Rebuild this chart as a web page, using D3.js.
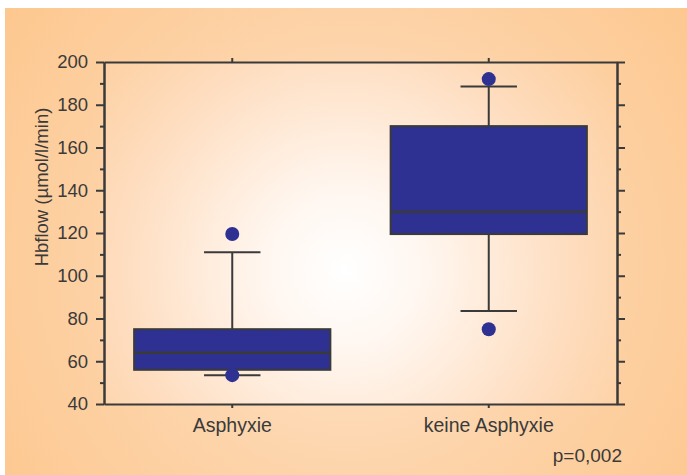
<!DOCTYPE html>
<html>
<head>
<meta charset="utf-8">
<script src="https://cdn.jsdelivr.net/npm/d3@7"></script>
<style>
  html, body { margin: 0; padding: 0; background: #ffffff; }
  svg { display: block; }
  text { font-family: "Liberation Sans", Arial, Helvetica, sans-serif; fill: #3a3a3a; }
</style>
</head>
<body>
<svg id="chart" width="687" height="475"></svg>
<script>
// Box plot data: Hbflow by group
const categories = ["Asphyxie", "keine Asphyxie"];
const whiskerLow = [53.5, 83.5];
const q1 = [56, 119.5];
const median = [64, 130];
const q3 = [75, 170];
const whiskerHigh = [111, 188.5];
const outliers = [[53.5, 119.5], [75, 192]];
const yTicks = [40, 60, 80, 100, 120, 140, 160, 180, 200];
const yMinorTicks = [50, 70, 90, 110, 130, 150, 170, 190];
const yLabel = "Hbflow (µmol/l/min)";
const pLabel = "p=0,002";

const svg = d3.select("#chart");
const W = 687, H = 475;
const margin = { left: 104, right: 70, top: 62, bottom: 71 };
const plotW = W - margin.left - margin.right;
const plotH = H - margin.top - margin.bottom;

const defs = svg.append("defs");
const panelGrad = defs.append("radialGradient")
  .attr("id", "panelGrad").attr("gradientUnits", "userSpaceOnUse")
  .attr("cx", 350).attr("cy", 260).attr("r", 420);
panelGrad.append("stop").attr("offset", "0%").attr("stop-color", "#fee6cf");
panelGrad.append("stop").attr("offset", "55%").attr("stop-color", "#fdd3a8");
panelGrad.append("stop").attr("offset", "100%").attr("stop-color", "#fdc890");

const plotGrad = defs.append("radialGradient")
  .attr("id", "plotGrad").attr("gradientUnits", "userSpaceOnUse")
  .attr("cx", 345).attr("cy", 270).attr("r", 330);
plotGrad.append("stop").attr("offset", "0%").attr("stop-color", "#ffffff");
plotGrad.append("stop").attr("offset", "25%").attr("stop-color", "#fff6ef");
plotGrad.append("stop").attr("offset", "70%").attr("stop-color", "#fedcbd");
plotGrad.append("stop").attr("offset", "100%").attr("stop-color", "#fdcf9f");

// Background panel
svg.append("rect").attr("x", 5).attr("y", 8).attr("width", W - 5).attr("height", H - 8)
  .attr("fill", "url(#panelGrad)");

const x = d3.scaleBand().domain(categories)
  .range([margin.left, margin.left + plotW]).padding(0);
const y = d3.scaleLinear().domain([40, 200])
  .range([margin.top + plotH, margin.top]);

// Plot area
svg.append("rect").attr("x", margin.left).attr("y", margin.top)
  .attr("width", plotW).attr("height", plotH).attr("fill", "url(#plotGrad)");

const boxW = x.bandwidth() * 0.765;
const capW = x.bandwidth() * 0.22;
const stroke = "#3a3a3a";

const groups = svg.append("g").selectAll("g").data(categories).join("g")
  .attr("transform", d => `translate(${x(d) + x.bandwidth() / 2},0)`);

// Whisker stems
groups.append("line")
  .attr("x1", 0).attr("x2", 0)
  .attr("y1", (d, i) => y(whiskerLow[i])).attr("y2", (d, i) => y(whiskerHigh[i]))
  .attr("stroke", stroke).attr("stroke-width", 2);
// Whisker caps
groups.selectAll("line.cap").data((d, i) => [whiskerLow[i], whiskerHigh[i]]).join("line")
  .attr("class", "cap")
  .attr("x1", -capW / 2).attr("x2", capW / 2)
  .attr("y1", v => y(v)).attr("y2", v => y(v))
  .attr("stroke", stroke).attr("stroke-width", 2);
// Boxes
groups.append("rect")
  .attr("x", -boxW / 2).attr("width", boxW)
  .attr("y", (d, i) => y(q3[i])).attr("height", (d, i) => y(q1[i]) - y(q3[i]))
  .attr("fill", "#2e3192").attr("stroke", stroke).attr("stroke-width", 2);
// Medians
groups.append("line")
  .attr("x1", -boxW / 2).attr("x2", boxW / 2)
  .attr("y1", (d, i) => y(median[i])).attr("y2", (d, i) => y(median[i]))
  .attr("stroke", stroke).attr("stroke-width", 2.5);
// Outliers
groups.selectAll("circle").data((d, i) => outliers[i]).join("circle")
  .attr("cx", 0).attr("cy", v => y(v)).attr("r", 7)
  .attr("fill", "#2e3192");

// Axes
function styleAxis(g) {
  g.selectAll(".domain").attr("stroke", stroke).attr("stroke-width", 2);
  g.selectAll(".tick line").attr("stroke", stroke).attr("stroke-width", 2);
}
const left = svg.append("g").attr("transform", `translate(${margin.left},0)`)
  .call(d3.axisLeft(y).tickValues(yTicks).tickSize(8).tickSizeOuter(0).tickPadding(8))
  .call(styleAxis);
left.selectAll(".tick text").attr("font-size", 18.5).attr("fill", "#3a3a3a")
  .attr("font-family", "Liberation Sans, Arial, sans-serif");
svg.append("g").attr("transform", `translate(${margin.left},0)`)
  .call(d3.axisLeft(y).tickValues(yMinorTicks).tickSize(4).tickSizeOuter(0).tickFormat(""))
  .call(styleAxis);

svg.append("g").attr("transform", `translate(${margin.left + plotW},0)`)
  .call(d3.axisRight(y).tickValues(yTicks).tickSize(8).tickSizeOuter(0).tickFormat(""))
  .call(styleAxis);
svg.append("g").attr("transform", `translate(${margin.left + plotW},0)`)
  .call(d3.axisRight(y).tickValues(yMinorTicks).tickSize(4).tickSizeOuter(0).tickFormat(""))
  .call(styleAxis);

const bottom = svg.append("g").attr("transform", `translate(0,${margin.top + plotH})`)
  .call(d3.axisBottom(x).tickSize(4).tickSizeOuter(0).tickPadding(10))
  .call(styleAxis);
bottom.selectAll(".tick text").attr("font-size", 19.5).attr("fill", "#3a3a3a")
  .attr("font-family", "Liberation Sans, Arial, sans-serif");
svg.append("g").attr("transform", `translate(0,${margin.top})`)
  .call(d3.axisTop(x).tickSize(4).tickSizeOuter(0).tickFormat(""))
  .call(styleAxis);

// Axis title
svg.append("text")
  .attr("transform", "translate(48,187) rotate(-90)")
  .attr("text-anchor", "middle").attr("font-size", 18.5)
  .text(yLabel);

// Significance note
svg.append("text")
  .attr("x", 622).attr("y", 462).attr("text-anchor", "end").attr("font-size", 19)
  .text(pLabel);
</script>
</body>
</html>
